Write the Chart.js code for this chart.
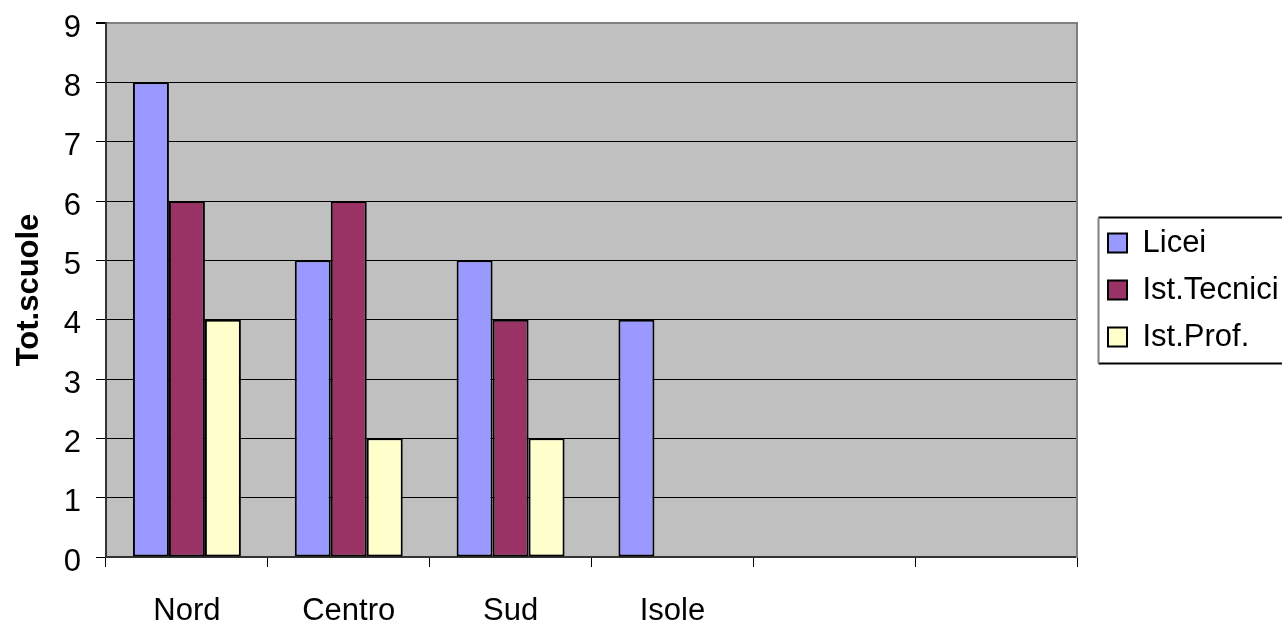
<!DOCTYPE html>
<html>
<head>
<meta charset="utf-8">
<script src="https://cdn.jsdelivr.net/npm/chart.js@4/dist/chart.umd.min.js"></script>
<style>
  html, body { margin: 0; padding: 0; background: #fff; overflow: hidden; }
  #wrap { width: 1282px; height: 626px; position: relative; }
</style>
</head>
<body>
<div id="wrap"><canvas id="c" width="1282" height="626"></canvas></div>
<script>
// Numero di scuole per area geografica e tipo di istituto
const regioni = ['Nord', 'Centro', 'Sud', 'Isole', '', ''];
const licei = [8, 5, 5, 4, null, null];
const istTecnici = [6, 6, 4, null, null, null];
const istProf = [4, 2, 2, null, null, null];
const yTicks = [0, 1, 2, 3, 4, 5, 6, 7, 8, 9];

const FONT = "'Liberation Sans', Arial, sans-serif";

// grey plot background
const plotBg = {
  id: 'plotBg',
  beforeDraw(chart) {
    const { ctx, chartArea: a } = chart;
    ctx.save();
    ctx.fillStyle = '#C0C0C0';
    ctx.fillRect(a.left, a.top, a.right - a.left, a.bottom - a.top);
    ctx.restore();
  }
};

// frame around the legend items
const legendFrame = {
  id: 'legendFrame',
  afterDraw(chart) {
    const lg = chart.legend;
    if (!lg || !lg.legendHitBoxes || !lg.legendHitBoxes.length) return;
    const hb = lg.legendHitBoxes;
    const first = hb[0], last = hb[hb.length - 1];
    const left = Math.round(first.left - 10) + 0.5;
    const top = Math.round(first.top - 10.5) + 0.5;
    const bottom = Math.round(last.top + last.height + 10.5) + 0.5;
    const right = chart.width + 10;
    const ctx = chart.ctx;
    ctx.save();
    ctx.lineWidth = 2;
    ctx.strokeStyle = '#000';
    ctx.beginPath();
    ctx.moveTo(left, top); ctx.lineTo(right, top);
    ctx.moveTo(left, bottom); ctx.lineTo(right, bottom);
    ctx.stroke();
    ctx.strokeStyle = '#808080';
    ctx.beginPath();
    ctx.moveTo(left, top); ctx.lineTo(left, bottom);
    ctx.stroke();
    ctx.restore();
  }
};

const barStyle = { borderColor: '#000', borderWidth: 2, borderSkipped: false };

new Chart(document.getElementById('c'), {
  type: 'bar',
  data: {
    labels: regioni,
    datasets: [
      Object.assign({ label: 'Licei', data: licei, backgroundColor: '#9999FF' }, barStyle),
      Object.assign({ label: 'Ist.Tecnici', data: istTecnici, backgroundColor: '#993366' }, barStyle),
      Object.assign({ label: 'Ist.Prof.', data: istProf, backgroundColor: '#FFFFCC' }, barStyle)
    ]
  },
  options: {
    responsive: false,
    animation: false,
    devicePixelRatio: 1,
    layout: { padding: { top: 23, left: 0, right: 0, bottom: 0 } },
    datasets: { bar: { categoryPercentage: 0.667, barPercentage: 1 } },
    plugins: {
      tooltip: { enabled: false },
      legend: {
        display: true,
        position: 'right',
        fullSize: false,
        align: 'center',
        maxWidth: 190,
        labels: {
          boxWidth: 19,
          boxHeight: 19,
          padding: 16,
          color: '#000',
          font: { family: FONT, size: 31 }
        }
      }
    },
    scales: {
      x: {
        type: 'category',
        offset: true,
        grid: {
          offset: true,
          drawOnChartArea: false,
          drawTicks: true,
          tickLength: 10,
          color: '#000',
          lineWidth: 1
        },
        border: { display: true, color: '#333', width: 2 },
        ticks: {
          autoSkip: false,
          maxRotation: 0,
          padding: 26,
          color: '#000',
          font: { family: FONT, size: 31 }
        },
        afterFit(s) { s.height = 69; s.paddingLeft = 0; s.paddingRight = 0; }
      },
      y: {
        position: 'left',
        min: 0,
        max: 9,
        afterBuildTicks(s) { s.ticks = yTicks.map(v => ({ value: v })); },
        grid: {
          color: c => (c.tick && c.tick.value === 9) ? '#808080' : '#000',
          lineWidth: c => (c.tick && c.tick.value === 9) ? 2 : 1,
          tickColor: '#000',
          tickLength: 10
        },
        border: { display: true, color: '#333', width: 2 },
        ticks: {
          stepSize: 1,
          padding: 15,
          labelOffset: 5,
          color: '#000',
          font: { family: FONT, size: 31 }
        },
        title: {
          display: true,
          text: 'Tot.scuole',
          color: '#000',
          font: { family: FONT, size: 31, weight: 'bold' },
          padding: { top: 11, bottom: 0 }
        },
        afterFit(s) { s.width = 106; s.paddingTop = 0; s.paddingBottom = 0; }
      },
      y2: {
        position: 'right',
        min: 0,
        max: 9,
        grid: { display: false, drawTicks: false },
        ticks: { display: false },
        border: { display: true, color: '#808080', width: 2 },
        afterFit(s) { s.width = 15; s.paddingTop = 0; s.paddingBottom = 0; }
      }
    }
  },
  plugins: [plotBg, legendFrame]
});
</script>
</body>
</html>
